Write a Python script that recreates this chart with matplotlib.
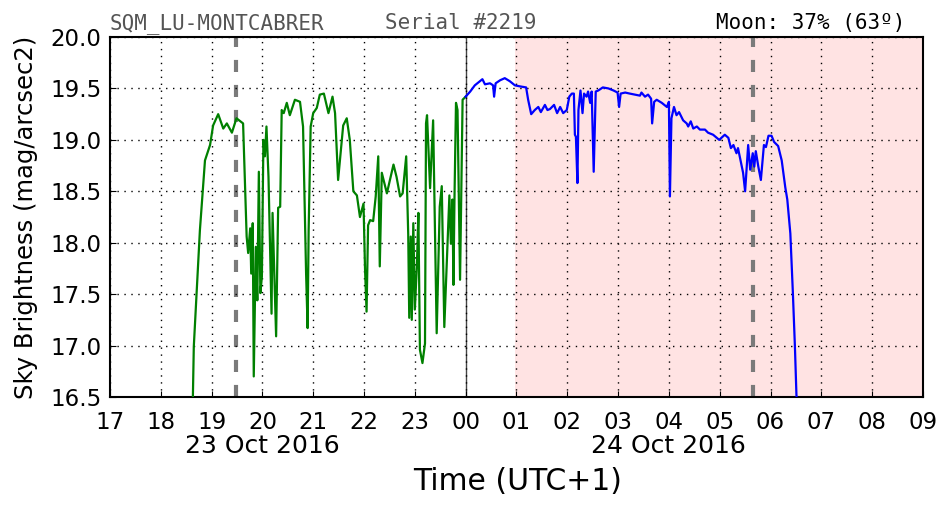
import matplotlib
matplotlib.use('Agg')
import matplotlib.pyplot as plt

# hours since 0h of 23 Oct (24 = 00h of 24 Oct)
green_t = [18.63, 18.65, 18.77, 18.87, 18.97, 19.03, 19.13, 19.23, 19.30, 19.40, 19.49,
           19.62, 19.69, 19.72, 19.76, 19.78, 19.81, 19.83, 19.87, 19.90, 19.93, 19.96,
           19.99, 20.02, 20.05, 20.08, 20.12, 20.18, 20.20, 20.27, 20.31, 20.35, 20.38,
           20.42, 20.48, 20.54, 20.64, 20.74, 20.80, 20.86, 20.89, 20.91, 20.95, 21.00,
           21.07, 21.13, 21.21, 21.30, 21.38, 21.43, 21.49, 21.59, 21.66, 21.72, 21.79,
           21.86, 21.92, 21.99, 22.02, 22.05, 22.08, 22.12, 22.18, 22.23, 22.28, 22.31,
           22.35, 22.45, 22.51, 22.58, 22.64, 22.71, 22.76, 22.83, 22.87, 22.89, 22.92,
           22.94, 22.97, 23.00, 23.04, 23.07, 23.10, 23.15, 23.20, 23.22, 23.24, 23.30,
           23.36, 23.43, 23.49, 23.53, 23.58, 23.68, 23.71, 23.74, 23.76, 23.78, 23.81,
           23.84, 23.89, 23.94, 24.00]
green_v = [16.45, 16.99, 18.12, 18.80, 18.95, 19.14, 19.25, 19.11, 19.16, 19.07, 19.21,
           19.16, 18.06, 17.90, 18.14, 17.70, 18.19, 16.70, 17.96, 17.44, 18.69, 17.51,
           17.67, 19.00, 18.84, 19.13, 18.64, 17.31, 18.29, 17.09, 18.34, 18.35, 19.29,
           19.26, 19.36, 19.24, 19.39, 19.37, 19.13, 17.70, 17.17, 18.12, 19.13, 19.26,
           19.31, 19.44, 19.45, 19.26, 19.42, 19.26, 18.61, 19.14, 19.21, 19.00, 18.50,
           18.46, 18.25, 18.38, 17.74, 17.33, 18.17, 18.22, 18.21, 18.45, 18.84, 17.77,
           18.68, 18.48, 18.61, 18.76, 18.64, 18.45, 18.48, 18.84, 18.08, 17.27, 18.06,
           17.25, 18.19, 17.35, 17.77, 18.29, 16.96, 16.83, 17.02, 19.16, 19.24, 18.53,
           19.19, 17.12, 18.35, 18.55, 17.18, 18.46, 17.99, 18.42, 17.59, 18.42, 19.36,
           19.29, 17.64, 19.39, 19.42]

blue_t = [24.00, 24.09, 24.18, 24.28, 24.33, 24.38, 24.48, 24.54, 24.56, 24.59, 24.68,
          24.77, 24.87, 24.97, 25.07, 25.19, 25.23, 25.29, 25.36, 25.43, 25.48, 25.56,
          25.61, 25.66, 25.74, 25.80, 25.86, 25.92, 25.99, 26.04, 26.09, 26.13, 26.15,
          26.17, 26.20, 26.22, 26.26, 26.30, 26.33, 26.38, 26.41, 26.45, 26.48, 26.52,
          26.56, 26.61, 26.70, 26.81, 26.91, 26.99, 27.02, 27.05, 27.14, 27.23, 27.33,
          27.43, 27.46, 27.53, 27.59, 27.65, 27.67, 27.71, 27.76, 27.86, 27.96, 28.00,
          28.02, 28.05, 28.10, 28.15, 28.20, 28.28, 28.35, 28.38, 28.43, 28.48, 28.55,
          28.61, 28.71, 28.77, 28.87, 28.99, 29.10, 29.17, 29.22, 29.27, 29.33, 29.36,
          29.46, 29.50, 29.56, 29.60, 29.65, 29.68, 29.71, 29.76, 29.81, 29.87, 29.91,
          29.96, 30.02, 30.07, 30.15, 30.22, 30.29, 30.33, 30.39, 30.44, 30.48, 30.51,
          30.53]
blue_v = [19.42, 19.47, 19.53, 19.57, 19.59, 19.54, 19.55, 19.53, 19.42, 19.55, 19.58,
          19.60, 19.57, 19.53, 19.52, 19.51, 19.39, 19.25, 19.29, 19.32, 19.27, 19.34,
          19.29, 19.30, 19.34, 19.26, 19.32, 19.26, 19.29, 19.42, 19.45, 19.45, 19.05,
          19.03, 18.58, 19.29, 19.48, 19.26, 19.45, 19.42, 19.47, 19.36, 19.47, 18.69,
          19.47, 19.48, 19.51, 19.50, 19.48, 19.46, 19.32, 19.45, 19.46, 19.45, 19.44,
          19.43, 19.46, 19.42, 19.44, 19.40, 19.16, 19.37, 19.39, 19.36, 19.32, 19.37,
          18.45, 19.21, 19.32, 19.24, 19.27, 19.19, 19.16, 19.13, 19.18, 19.11, 19.13,
          19.10, 19.10, 19.07, 19.05, 19.00, 19.05, 19.02, 18.92, 18.95, 18.87, 18.92,
          18.68, 18.50, 18.95, 18.71, 18.87, 18.74, 18.89, 18.74, 18.61, 18.95, 18.93,
          19.04, 19.04, 18.98, 18.94, 18.80, 18.54, 18.42, 18.09, 17.51, 16.99, 16.52,
          16.40]

x_ticks = list(range(17, 34))
x_labels = ['%02d' % (h % 24) if h >= 24 else str(h) for h in x_ticks]
y_ticks = [16.5, 17.0, 17.5, 18.0, 18.5, 19.0, 19.5, 20.0]
dates = ['23 Oct 2016', '24 Oct 2016']
date_pos = [20.0, 28.0]
twilight = [19.49, 29.66]
day_start = 24.97

plt.rcParams['font.family'] = 'DejaVu Sans'

fig = plt.figure(figsize=(9.52, 5.12), dpi=100)
ax = fig.add_axes([0.1155, 0.2246, 0.854, 0.7031])

ax.axvspan(day_start, 33, color='#ffe3e3', zorder=0, lw=0)
for t in twilight:
    ax.axvline(t, color='#7a7a7a', lw=3, ls=(0, (2.9, 3.1)), zorder=1)
ax.axvline(24, color='#444444', lw=1, zorder=1)

ax.plot(green_t, green_v, color='green', lw=1.6, zorder=3)
ax.plot(blue_t, blue_v, color='blue', lw=1.6, zorder=3)

ax.set_xlim(17, 33)
ax.set_ylim(16.5, 20.0)
ax.set_xticks(x_ticks)
ax.set_xticklabels(x_labels, fontsize=16.5)
ax.set_yticks(y_ticks)
ax.set_yticklabels(['%.1f' % v for v in y_ticks], fontsize=16.5)
ax.tick_params(direction='in', length=4)
ax.tick_params(axis='x', pad=10)
ax.tick_params(axis='y', pad=6)
ax.grid(True, color='black', ls=(0, (1, 4)), lw=1)
for s in ax.spines.values():
    s.set_linewidth(1.5)

for d, p in zip(dates, date_pos):
    ax.text(p, -0.135, d, transform=ax.get_xaxis_transform(), ha='center', va='center',
            fontsize=18)

fig.text(0.544, 0.06, 'Time (UTC+1)', fontsize=21.5, ha='center', va='center')
fig.text(0.027, 0.576, 'Sky Brightness (mag/arcsec2)', fontsize=17.5, rotation=90,
         ha='center', va='center')

fig.text(0.1155, 0.955, 'SQM_LU-MONTCABRER', family='DejaVu Sans Mono', fontsize=15,
         color='#555555', va='center')
fig.text(0.404, 0.955, 'Serial #2219', family='DejaVu Sans Mono', fontsize=15,
         color='#555555', va='center')
fig.text(0.951, 0.955, 'Moon: 37% (63º)', family='DejaVu Sans Mono', fontsize=15,
         color='black', va='center', ha='right')

fig.savefig('out.png', dpi=100)
